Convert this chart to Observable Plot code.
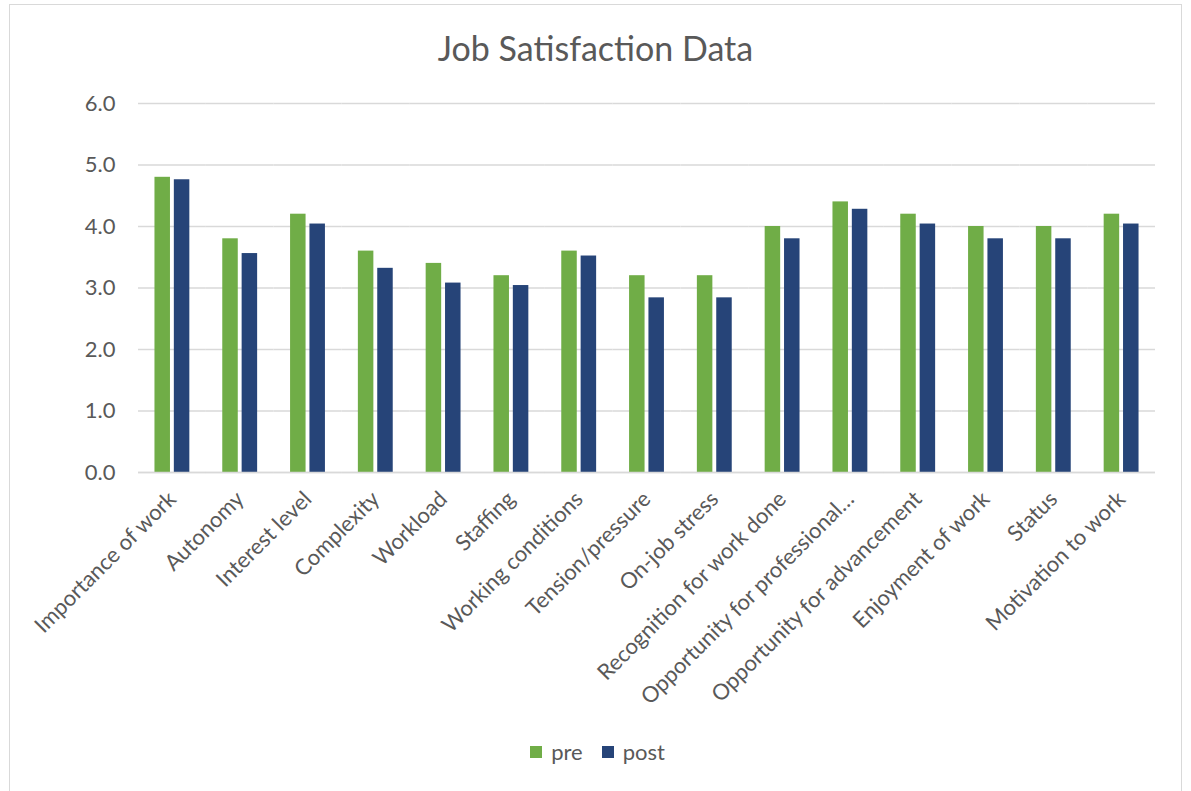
<!DOCTYPE html>
<html><head><meta charset="utf-8">
<script src="https://cdn.jsdelivr.net/npm/d3@7"></script>
<script src="https://cdn.jsdelivr.net/npm/@observablehq/plot@0.6"></script>
<style>
body{margin:0;background:#fff;font-family:Lato,"Open Sans",sans-serif;}
#wrap{position:relative;width:1191px;height:791px;overflow:hidden;}
#frame{position:absolute;left:9px;top:4px;width:1173px;height:820px;border:1px solid #d9d9d9;box-sizing:border-box;}
#title{position:absolute;left:0;width:1191px;top:28px;text-align:center;font-size:34px;line-height:1.2;color:#595959;}
#chart{position:absolute;left:0;top:0;}
#legend{position:absolute;left:2px;width:1191px;top:739px;display:flex;justify-content:center;gap:19px;font-size:22px;line-height:1.2;color:#595959;}
#legend .item{display:flex;align-items:center;gap:9px;}
#legend .sw{width:12px;height:12px;display:inline-block;}
</style>
</head><body>
<div id="wrap">
  <div id="frame"></div>
  <div id="chart"></div>
  <div id="title">Job Satisfaction Data</div>
  <div id="legend"></div>
</div>
<script>
const categories = ["Importance of work","Autonomy","Interest level","Complexity","Workload","Staffing","Working conditions","Tension/pressure","On-job stress","Recognition for work done","Opportunity for professional…","Opportunity for advancement","Enjoyment of work","Status","Motivation to work"];
const pre  = [4.80,3.80,4.20,3.60,3.40,3.20,3.60,3.20,3.20,4.00,4.40,4.20,4.00,4.00,4.20];
const post = [4.76,3.56,4.04,3.32,3.08,3.04,3.52,2.84,2.84,3.80,4.28,4.04,3.80,3.80,4.04];
const series = ["pre","post"];
const colors = ["#70AD47","#264478"];
const yTicks = [0,1,2,3,4,5,6];

const data = categories.flatMap((c,i)=>[
  {category:c, series:"pre", value:pre[i]},
  {category:c, series:"post", value:post[i]}
]);

const chart = Plot.plot({
  width:1191, height:730,
  marginTop:103, marginBottom:258, marginLeft:138, marginRight:36,
  style:{fontFamily:"Lato, 'Open Sans', sans-serif", fontSize:"22px", color:"#595959", background:"transparent", overflow:"visible"},
  fx:{domain:categories, padding:0, round:false, label:null},
  x:{domain:series, axis:null, paddingInner:0.2, paddingOuter:0.85, round:false},
  y:{domain:[0,6]},
  color:{domain:series, range:colors},
  marks:[
    Plot.gridY(yTicks, {stroke:"#d9d9d9", strokeOpacity:1, strokeWidth:1.4}),
    Plot.axisY(yTicks, {tickFormat:d=>d.toFixed(1), tickSize:0, tickPadding:23, label:null, fontSize:22}),
    Plot.axisFx({anchor:"bottom", tickRotate:-45, tickSize:0, tickPadding:23, label:null, fontSize:22}),
    Plot.barY(data, {fx:"category", x:"series", y:"value", fill:"series"}),
    Plot.ruleY([0], {stroke:"#d9d9d9", strokeWidth:1.4})
  ]
});
document.getElementById("chart").appendChild(chart);

const legend = document.getElementById("legend");
series.forEach((s,i)=>{
  const it = document.createElement("div"); it.className="item";
  const sw = document.createElement("span"); sw.className="sw"; sw.style.background=colors[i];
  const tx = document.createElement("span"); tx.textContent=s;
  it.appendChild(sw); it.appendChild(tx); legend.appendChild(it);
});
</script>
</body></html>
